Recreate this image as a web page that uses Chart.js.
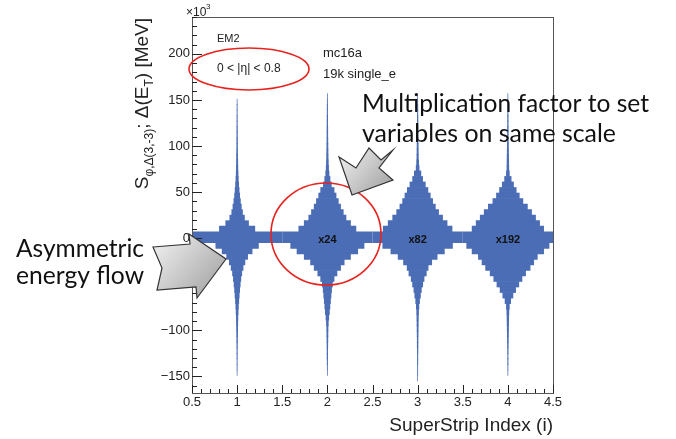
<!DOCTYPE html>
<html>
<head>
<meta charset="utf-8">
<script src="https://cdn.jsdelivr.net/npm/chart.js@4.4.1/dist/chart.umd.min.js"></script>
<style>
  html, body { margin: 0; padding: 0; background: #fff; }
</style>
</head>
<body>
<canvas id="violin-chart" width="676" height="439"></canvas>
<script>
// y bins (x10^3 MeV), top to bottom
const binCenters = [154, 148, 142, 136, 130, 124, 118, 112, 106, 100, 94, 88, 82, 76, 70, 64, 58, 52, 46, 40, 34, 28, 22, 16, 10, 4,
  -2, -8, -14, -20, -26, -32, -38, -44, -50, -56, -62, -68, -74, -80, -86, -92, -98, -104, -110, -116, -122, -128, -134, -140, -146, -152];

const stripIndex = [1, 2, 3, 4];
const factorLabels = ['', 'x24', 'x82', 'x192'];

// half widths of each violin per bin
const strip1Width = [0, .004, .005, .005, .006, .006, .007, .007, .008, .008, .009, .01, .011, .012, .014, .017, .021, .026, .032, .04, .05, .063, .085, .13, .2, .5,
  .5, .24, .17, .12, .09, .07, .055, .045, .038, .032, .027, .022, .018, .015, .012, .011, .01, .009, .008, .007, .006, .006, .005, .005, .004, 0];
const strip2Width = [.004, .005, .006, .006, .007, .007, .008, .008, .009, .01, .011, .012, .014, .017, .022, .033, .048, .078, .1, .125, .15, .18, .21, .26, .32, .5,
  .5, .41, .34, .26, .19, .15, .11, .078, .06, .05, .044, .038, .032, .026, .019, .014, .011, .01, .009, .008, .007, .007, .006, .005, .004, 0];
const strip3Width = [.004, .005, .006, .006, .007, .007, .008, .008, .009, .01, .011, .012, .015, .02, .04, .059, .089, .118, .144, .17, .2, .236, .28, .33, .385, .5,
  .5, .39, .3, .22, .16, .12, .1, .075, .06, .045, .035, .025, .018, .014, .012, .011, .01, .009, .008, .008, .007, .006, .006, .005, .005, .004];
const strip4Width = [.004, .005, .006, .006, .007, .007, .008, .008, .009, .01, .011, .012, .013, .014, .02, .04, .066, .096, .13, .17, .22, .266, .31, .355, .4, .5,
  .5, .46, .4, .33, .29, .25, .2, .16, .125, .09, .06, .035, .02, .015, .013, .012, .011, .01, .009, .008, .007, .006, .006, .005, .004, 0];

const allWidths = [strip1Width, strip2Width, strip3Width, strip4Width];

const xTicks = [0.5, 1, 1.5, 2, 2.5, 3, 3.5, 4, 4.5];
const yTicks = [-150, -100, -50, 0, 50, 100, 150, 200];

const violinColor = '#4a6db6';

function violinData(pos, widths) {
  const out = [];
  widths.forEach((w, k) => {
    if (w > 0) out.push({ y: binCenters[k], x: [pos - w, pos + w] });
  });
  return out;
}

const datasets = stripIndex.map((pos, i) => ({
  data: violinData(pos, allWidths[i]),
  backgroundColor: violinColor,
  borderWidth: 0,
  barPercentage: 1.12,
  categoryPercentage: 1,
  grouped: false
}));

// draws ROOT style frame, ticks, labels and the slide annotations
const overlay = {
  id: 'overlay',
  beforeDraw(chart) {
    const ctx = chart.ctx;
    ctx.save();
    ctx.fillStyle = '#fff';
    ctx.fillRect(0, 0, chart.width, chart.height);
    ctx.restore();
  },
  afterDraw(chart) {
    const ctx = chart.ctx;
    const xs = chart.scales.x, ys = chart.scales.y;
    const a = chart.chartArea;
    ctx.save();

    // factors
    ctx.fillStyle = '#111';
    ctx.font = 'bold 11px "Liberation Sans", Arial, sans-serif';
    ctx.textAlign = 'center';
    ctx.textBaseline = 'middle';
    stripIndex.forEach((pos, i) => {
      if (factorLabels[i]) ctx.fillText(factorLabels[i], xs.getPixelForValue(pos), ys.getPixelForValue(-2));
    });

    // frame
    ctx.strokeStyle = '#555';
    ctx.lineWidth = 1;
    ctx.strokeRect(Math.round(a.left) + 0.5, Math.round(a.top) + 0.5, Math.round(a.right - a.left), Math.round(a.bottom - a.top));

    // ticks inside
    ctx.strokeStyle = '#222';
    ctx.beginPath();
    for (let v = -160; v <= 240; v += 10) {
      const py = Math.round(ys.getPixelForValue(v)) + 0.5;
      if (py < a.top || py > a.bottom) continue;
      const len = v % 50 === 0 ? 10 : 5;
      ctx.moveTo(a.left, py);
      ctx.lineTo(a.left + len, py);
    }
    for (let k = 5; k <= 45; k++) {
      const v = k / 10;
      const px = Math.round(xs.getPixelForValue(v)) + 0.5;
      const len = k % 5 === 0 ? 8 : 4;
      ctx.moveTo(px, a.bottom);
      ctx.lineTo(px, a.bottom - len);
    }
    ctx.stroke();

    // tick labels
    ctx.fillStyle = '#222';
    ctx.font = '13px "Liberation Sans", Arial, sans-serif';
    ctx.textAlign = 'right';
    ctx.textBaseline = 'middle';
    yTicks.forEach(v => {
      ctx.fillText(String(v).replace('-', '\u2212'), a.left - 2, ys.getPixelForValue(v));
    });
    ctx.textAlign = 'center';
    ctx.textBaseline = 'top';
    xTicks.forEach(v => {
      ctx.fillText(String(v), xs.getPixelForValue(v), a.bottom + 3);
    });

    // x10^3
    ctx.textAlign = 'left';
    ctx.textBaseline = 'alphabetic';
    ctx.font = '12px "Liberation Sans", Arial, sans-serif';
    ctx.fillText('\u00d710', a.left - 6, 16);
    ctx.font = '8px "Liberation Sans", Arial, sans-serif';
    ctx.fillText('3', a.left + 14, 9);

    // axis titles
    ctx.font = '19px "Liberation Sans", Arial, sans-serif';
    ctx.textAlign = 'right';
    ctx.fillText('SuperStrip Index (i)', a.right, 431);

    const parts = [
      { t: 'S', f: 19, sub: false },
      { t: '\u03c6,\u0394(3,-3)', f: 12, sub: true },
      { t: '; \u0394(E', f: 19, sub: false },
      { t: 'T', f: 12, sub: true },
      { t: ') [MeV]', f: 19, sub: false }
    ];
    let total = 0;
    parts.forEach(p => {
      ctx.font = p.f + 'px "Liberation Sans", Arial, sans-serif';
      p.w = ctx.measureText(p.t).width;
      total += p.w;
    });
    ctx.save();
    ctx.translate(148, 18 + total);
    ctx.rotate(-Math.PI / 2);
    ctx.textAlign = 'left';
    let cx = 0;
    parts.forEach(p => {
      ctx.font = p.f + 'px "Liberation Sans", Arial, sans-serif';
      ctx.fillText(p.t, cx, p.sub ? 5 : 0);
      cx += p.w;
    });
    ctx.restore();

    // info text
    ctx.fillStyle = '#222';
    ctx.textAlign = 'left';
    ctx.font = '11px "Liberation Sans", Arial, sans-serif';
    ctx.fillText('EM2', 217, 42);
    ctx.font = '12px "Liberation Sans", Arial, sans-serif';
    ctx.fillText('0 < |\u03b7| < 0.8', 217, 72);
    ctx.font = '13px "Liberation Sans", Arial, sans-serif';
    ctx.fillText('mc16a', 323, 57);
    ctx.fillText('19k single_e', 323, 78);

    // red ellipses
    ctx.strokeStyle = '#e8231f';
    ctx.lineWidth = 1.6;
    ctx.beginPath();
    ctx.ellipse(249, 69, 60, 21, 0, 0, Math.PI * 2);
    ctx.stroke();
    ctx.beginPath();
    ctx.ellipse(326, 234, 55, 51, 0, 0, Math.PI * 2);
    ctx.stroke();

    // gray block arrows
    drawArrow(ctx, [[153, 247], [190, 244], [189, 234], [226, 259], [197, 298], [196, 287], [157, 290], [162, 268]]);
    drawArrow(ctx, [[393, 150], [379, 168], [393, 180], [352, 195], [339, 157], [356, 168], [369, 148], [381, 160]]);

    // slide text
    ctx.fillStyle = '#111';
    ctx.font = '25px Lato, "Open Sans", sans-serif';
    ctx.fillText('Multiplication factor to set', 362, 112, 287);
    ctx.fillText('variables on same scale', 362, 142, 254);
    ctx.fillText('Asymmetric', 16, 257, 128);
    ctx.fillText('energy flow', 16, 284, 128);

    ctx.restore();
  }
};

function drawArrow(ctx, pts) {
  const xsP = pts.map(p => p[0]), ysP = pts.map(p => p[1]);
  const g = ctx.createLinearGradient(Math.min(...xsP), Math.min(...ysP), Math.max(...xsP), Math.max(...ysP));
  g.addColorStop(0, '#f4f4f4');
  g.addColorStop(1, '#9c9c9c');
  ctx.beginPath();
  ctx.moveTo(pts[0][0], pts[0][1]);
  for (let i = 1; i < pts.length; i++) ctx.lineTo(pts[i][0], pts[i][1]);
  ctx.closePath();
  ctx.fillStyle = g;
  ctx.fill();
  ctx.strokeStyle = '#333';
  ctx.lineWidth = 1.2;
  ctx.stroke();
}

new Chart(document.getElementById('violin-chart'), {
  type: 'bar',
  data: { datasets },
  options: {
    responsive: false,
    animation: false,
    indexAxis: 'y',
    layout: { padding: { left: 192, right: 123, top: 17, bottom: 46 } },
    plugins: { legend: { display: false }, tooltip: { enabled: false } },
    scales: {
      x: { type: 'linear', min: 0.5, max: 4.5, display: false, offset: false },
      y: { type: 'linear', min: -168, max: 240, display: false, offset: false, ticks: { stepSize: 50 } }
    }
  },
  plugins: [overlay]
});
</script>
</body>
</html>
